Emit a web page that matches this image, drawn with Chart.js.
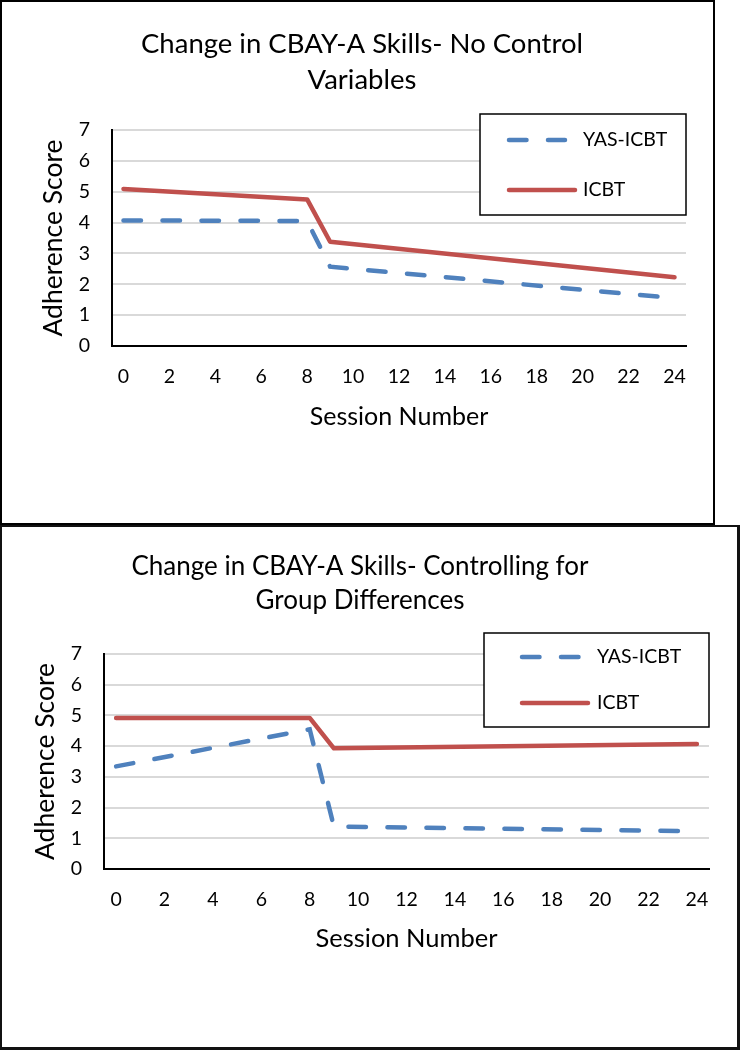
<!DOCTYPE html>
<html>
<head>
<meta charset="utf-8">
<script src="https://cdn.jsdelivr.net/npm/chart.js@4.4.0/dist/chart.umd.min.js"></script>
<style>
html,body{margin:0;padding:0;background:#fff;}
body{width:740px;height:1050px;position:relative;overflow:hidden;}
canvas{position:absolute;left:0;}
.frame{position:absolute;left:0;box-sizing:border-box;border:2px solid #000;pointer-events:none;}
</style>
</head>
<body>
<canvas id="c1" width="714" height="523" style="top:0;width:714px;height:523px"></canvas>
<canvas id="c2" width="738" height="522" style="top:525px;width:738px;height:522px"></canvas>
<div class="frame" style="top:0;width:715px;height:525px"></div>
<div class="frame" style="top:525px;width:740px;height:525px;border-right-width:3px;border-bottom-width:3px;border-color:#111"></div>
<script>
// ---- data ----
const sessionLabels = ['0','1','2','3','4','5','6','7','8','9','10','11','12','13','14','15','16','17','18','19','20','21','22','23','24'];
const keySessions = ['0','8','9','24'];
const seriesNames = ['YAS-ICBT','ICBT'];

const yasNoControl  = [4.07, 4.05, 2.57, 1.55];
const icbtNoControl = [5.09, 4.75, 3.38, 2.23];

const yasControlled  = [3.34, 4.55, 1.38, 1.23];
const icbtControlled = [4.92, 4.92, 3.93, 4.07];

const yTickValues = [0,1,2,3,4,5,6,7];

const titleTop = ['Change in CBAY-A Skills- No Control', 'Variables'];
const titleBottom = ['Change in CBAY-A Skills- Controlling for', 'Group Differences'];
const yTitle = 'Adherence Score';
const xTitle = 'Session Number';

// ---- helpers ----
const FAMILY = 'Lato, "Open Sans", sans-serif';
const mctx = document.createElement('canvas').getContext('2d');
function fitSize(text, target) {
  mctx.font = '100px ' + FAMILY;
  const w = mctx.measureText(text).width;
  return Math.round(100 * target / w * 2) / 2;
}
function pts(values) {
  return keySessions.map((s, i) => ({x: s, y: values[i]}));
}

const BLUE = '#4F81BD';
const RED = '#C0504D';

const boxLegend = {
  id: 'boxLegend',
  afterDraw(chart, args, o) {
    const ctx = chart.ctx, ca = chart.chartArea;
    const x0 = ca.right - o.width, y0 = ca.top + o.offsetY;
    ctx.save();
    ctx.fillStyle = '#fff';
    ctx.fillRect(x0, y0, o.width, o.height);
    ctx.strokeStyle = '#000';
    ctx.lineWidth = 1.5;
    ctx.strokeRect(x0, y0, o.width, o.height);
    chart.data.datasets.forEach((ds, i) => {
      const y = y0 + o.rowY[i];
      ctx.beginPath();
      ctx.setLineDash(ds.borderDash || []);
      ctx.lineCap = 'round';
      ctx.strokeStyle = ds.borderColor;
      ctx.lineWidth = ds.borderWidth;
      ctx.moveTo(x0 + o.lineX, y);
      ctx.lineTo(x0 + o.lineX + o.lineLen[i], y);
      ctx.stroke();
      ctx.setLineDash([]);
      ctx.fillStyle = '#000';
      ctx.font = o.fontSize + 'px ' + FAMILY;
      ctx.textBaseline = 'middle';
      ctx.textAlign = 'left';
      ctx.fillText(ds.label, x0 + o.textX, y);
    });
    ctx.restore();
  }
};

Chart.defaults.color = '#000';
Chart.defaults.font.family = FAMILY;

function makeChart(id, cfg) {
  const tickSize = fitSize('24', 22.7);
  const axisTitleSize = fitSize(yTitle, cfg.yTitleWidth);
  const xTitleSize = fitSize(xTitle, cfg.xTitleWidth);
  const titleSize = fitSize(cfg.title[0], cfg.titleWidth);
  const legendSize = fitSize('YAS-ICBT', 85);
  return new Chart(document.getElementById(id), {
    type: 'line',
    data: {
      labels: sessionLabels,
      datasets: [
        {label: seriesNames[0], data: pts(cfg.yas), borderColor: BLUE, backgroundColor: BLUE,
         borderWidth: 4.5, borderDash: [17.5, 21.5], borderCapStyle: 'round', pointRadius: 0, tension: 0, fill: false},
        {label: seriesNames[1], data: pts(cfg.icbt), borderColor: RED, backgroundColor: RED,
         borderWidth: 4.5, borderCapStyle: 'round', borderJoinStyle: 'round', pointRadius: 0, tension: 0, fill: false}
      ]
    },
    options: {
      responsive: false,
      animation: false,
      devicePixelRatio: 1,
      layout: {padding: {left: cfg.padLeft, right: cfg.padRight, top: 0, bottom: cfg.padBottom}},
      plugins: {
        legend: {display: false},
        tooltip: {enabled: false},
        title: {
          display: true, text: cfg.title, color: '#000',
          font: {size: titleSize, weight: 'normal', family: FAMILY, lineHeight: cfg.titleLH + 'px'},
          padding: {top: cfg.titlePadTop, bottom: cfg.titlePadBottom}
        },
        boxLegend: cfg.legend
      },
      scales: {
        x: {
          type: 'category',
          offset: true,
          grid: {display: false, drawTicks: false},
          border: {display: true, color: '#000', width: 2},
          ticks: {
            autoSkip: false, maxRotation: 0, padding: cfg.xTickPad,
            font: {size: tickSize},
            callback: (v, i) => (i % 2 === 0 ? sessionLabels[i] : '')
          },
          title: {display: true, text: xTitle, font: {size: xTitleSize}, padding: {top: 0, bottom: cfg.xTitlePadBottom}},
          afterFit: s => { s.height = 90; }
        },
        y: {
          min: yTickValues[0], max: yTickValues[yTickValues.length - 1],
          grid: {color: '#d9d9d9', lineWidth: 2, drawTicks: false},
          border: {display: true, color: '#000', width: 2},
          ticks: {stepSize: 1, padding: 22, font: {size: tickSize}},
          afterBuildTicks: s => { s.ticks = yTickValues.map(v => ({value: v})); },
          title: {display: true, text: yTitle, font: {size: axisTitleSize}, padding: {top: cfg.yTitlePadTop, bottom: 0}},
          afterFit: s => { s.width = cfg.yWidth; }
        }
      }
    },
    plugins: [boxLegend]
  });
}

makeChart('c1', {
  yas: yasNoControl, icbt: icbtNoControl, title: titleTop,
  titleWidth: 445, yTitleWidth: 198, xTitleWidth: 180,
  padLeft: 38, padRight: 28, padBottom: 87, yWidth: 74,
  titleLH: 36, titlePadTop: 26, titlePadBottom: 32,
  xTickPad: 19, xTitlePadBottom: 4, yTitlePadTop: 0,
  legend: {width: 206, height: 101, offsetY: -16, rowY: [26, 76], lineX: 29, lineLen: [56, 66], textX: 103, fontSize: fitSize('YAS-ICBT', 85)}
});

makeChart('c2', {
  yas: yasControlled, icbt: icbtControlled, title: titleBottom,
  titleWidth: 454, yTitleWidth: 199, xTitleWidth: 181,
  padLeft: 11, padRight: 29, padBottom: 88, yWidth: 93,
  titleLH: 34, titlePadTop: 25, titlePadBottom: 36,
  xTickPad: 19.5, xTitlePadBottom: 5, yTitlePadTop: 19,
  legend: {width: 225, height: 94, offsetY: -21, rowY: [24, 70], lineX: 38, lineLen: [58, 66], textX: 113, fontSize: fitSize('YAS-ICBT', 85)}
});
</script>
</body>
</html>
